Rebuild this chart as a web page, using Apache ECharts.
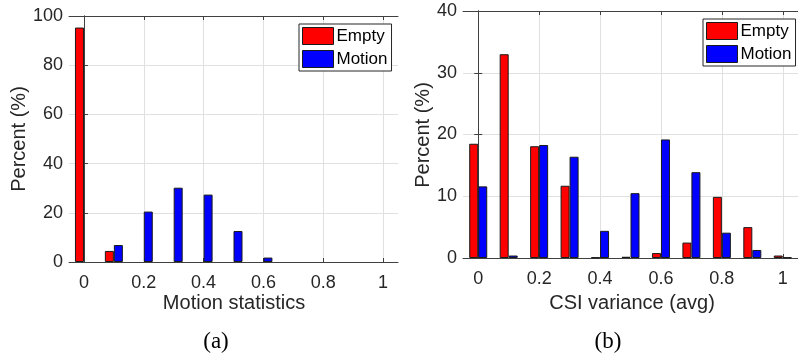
<!DOCTYPE html>
<html>
<head>
<meta charset="utf-8">
<script src="https://cdn.jsdelivr.net/npm/echarts@6/dist/echarts.min.js"></script>
<style>
  html, body { margin: 0; padding: 0; background: #fff; }
  #chart { width: 798px; height: 360px; }
</style>
</head>
<body>
<div id="chart"></div>
<script>
// histogram bin centres and tick labels
const bins = [0, 0.1, 0.2, 0.3, 0.4, 0.5, 0.6, 0.7, 0.8, 0.9, 1];
const xTicks = [0, 0.2, 0.4, 0.6, 0.8, 1];

// (a) motion statistics
const motionStatEmpty = [95.3, 4.5, 0, 0, 0, 0, 0, 0, 0, 0, 0];
const motionStatMotion = [0, 6.9, 20.5, 30.2, 27.4, 12.6, 1.8, 0, 0, 0, 0];

// (b) CSI variance (avg)
const csiVarEmpty = [18.5, 33.0, 18.1, 11.7, 0.1, 0.2, 0.8, 2.5, 9.9, 5.0, 0.4];
const csiVarMotion = [11.6, 0.4, 18.3, 16.4, 4.4, 10.5, 19.2, 13.9, 4.1, 1.3, 0.1];

// empty bins get no outline so they vanish into the axis line, as in matlab
const pairs = (vals) => bins.map((b, i) => vals[i] === 0
  ? { value: [b, 0], itemStyle: { borderWidth: 0 } }
  : [b, vals[i]]);

const axisColor = '#404040';
const textColor = '#262626';
const gridColor = '#e0e0e0';
const font = 'Liberation Sans, Arial, sans-serif';

function xAxisFor(gridIndex, pos) {
  const bottom = pos === 'bottom';
  return {
    type: 'value',
    gridIndex: gridIndex,
    position: pos,
    min: -0.05,
    max: 1.05,
    axisLine: { show: true, onZero: false, lineStyle: { color: axisColor, width: 1 } },
    axisTick: { show: true, inside: true, length: 4, customValues: xTicks, lineStyle: { color: axisColor } },
    axisLabel: {
      show: bottom, customValues: xTicks, margin: 12,
      color: textColor, fontSize: 18, fontFamily: font
    },
    splitLine: { show: bottom, lineStyle: { color: gridColor, width: 1 } }
  };
}

function yAxisFor(gridIndex, pos, max, step) {
  const left = pos === 'left';
  return {
    type: 'value',
    gridIndex: gridIndex,
    position: pos,
    min: 0,
    max: max,
    interval: step,
    axisLine: { show: true, lineStyle: { color: axisColor, width: 1 } },
    axisTick: { show: true, inside: true, length: 4, lineStyle: { color: axisColor } },
    axisLabel: { show: left, margin: 6, color: textColor, fontSize: 18, fontFamily: font },
    splitLine: { show: left, lineStyle: { color: gridColor, width: 1 } }
  };
}

function barSeries(name, color, data, axisIdx) {
  return {
    name: name,
    type: 'bar',
    xAxisIndex: axisIdx,
    yAxisIndex: axisIdx,
    data: pairs(data),
    barWidth: 9,
    barGap: '0%',
    itemStyle: { color: color, borderColor: '#1a1a1a', borderWidth: 1 },
    emphasis: { disabled: true },
    animation: false
  };
}

function legendFor(left, top) {
  return {
    left: left, top: top,
    orient: 'vertical',
    data: ['Empty', 'Motion'],
    backgroundColor: '#fff',
    borderColor: '#262626',
    borderWidth: 1,
    padding: [3, 4, 3, 3],
    itemGap: 5,
    itemWidth: 31,
    itemHeight: 17,
    icon: 'rect',
    selectedMode: false,
    itemStyle: { borderColor: '#1a1a1a', borderWidth: 1 },
    textStyle: { color: '#000', fontSize: 17, fontFamily: font, padding: [0, 0, 0, -2] }
  };
}

const chart = echarts.init(document.getElementById('chart'), null, { renderer: 'canvas' });

chart.setOption({
  backgroundColor: '#fff',
  animation: false,
  grid: [
    { left: 69, top: 16, width: 329, height: 246 },
    { left: 463, top: 11, width: 339, height: 247 }
  ],
  xAxis: [
    xAxisFor(0, 'bottom'), xAxisFor(0, 'top'),
    xAxisFor(1, 'bottom'), xAxisFor(1, 'top')
  ],
  yAxis: [
    yAxisFor(0, 'left', 100, 20), yAxisFor(0, 'right', 100, 20),
    yAxisFor(1, 'left', 40, 10), yAxisFor(1, 'right', 40, 10)
  ],
  legend: [legendFor(299, 24), legendFor(703, 19)],
  series: [
    barSeries('Empty', '#ff0000', motionStatEmpty, 0),
    barSeries('Motion', '#0000ff', motionStatMotion, 0),
    barSeries('Empty', '#ff0000', csiVarEmpty, 2),
    barSeries('Motion', '#0000ff', csiVarMotion, 2)
  ],
  graphic: [
    { type: 'text', x: 234, y: 303, style: { text: 'Motion statistics', fontSize: 20, fontFamily: font, fill: textColor, align: 'center', verticalAlign: 'middle' } },
    { type: 'text', x: 632, y: 303, style: { text: 'CSI variance (avg)', fontSize: 20, fontFamily: font, fill: textColor, align: 'center', verticalAlign: 'middle' } },
    { type: 'text', x: 19, y: 139, rotation: Math.PI / 2, style: { text: 'Percent (%)', fontSize: 20, fontFamily: font, fill: textColor, align: 'center', verticalAlign: 'middle' } },
    { type: 'text', x: 423, y: 135, rotation: Math.PI / 2, style: { text: 'Percent (%)', fontSize: 20, fontFamily: font, fill: textColor, align: 'center', verticalAlign: 'middle' } },
    { type: 'text', x: 216, y: 342, style: { text: '(a)', fontSize: 23, fontFamily: 'Liberation Serif, Times New Roman, serif', fill: '#000', align: 'center', verticalAlign: 'middle' } },
    { type: 'text', x: 608, y: 342, style: { text: '(b)', fontSize: 23, fontFamily: 'Liberation Serif, Times New Roman, serif', fill: '#000', align: 'center', verticalAlign: 'middle' } }
  ]
});
</script>
</body>
</html>
